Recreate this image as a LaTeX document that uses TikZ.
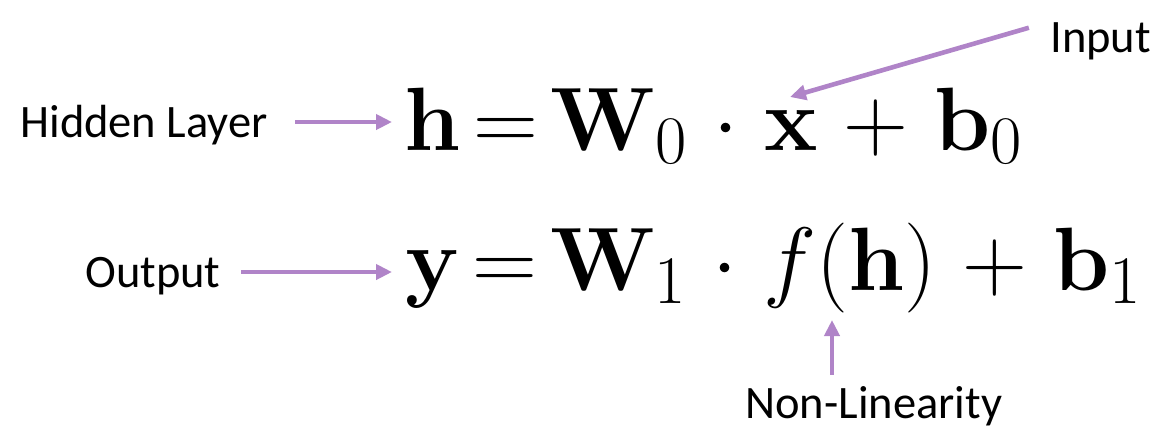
\RequirePackage{fix-cm}
\documentclass[tikz,border=0pt]{standalone}
\usepackage[no-math]{fontspec}
\usetikzlibrary{arrows.meta}
\newfontfamily\labelfont{Carlito}
\DeclareMathSizes{45}{45}{34}{25}
\definecolor{lilac}{RGB}{176,132,200}
\tikzset{
  lbl/.style={font=\labelfont\fontsize{23.25}{28}\selectfont, inner sep=0pt,
    text height=15pt, text depth=0pt, anchor=base west},
  eqn/.style={font={\fontsize{45}{54}\selectfont\thickmuskip=2.5mu\medmuskip=5.2mu},
    inner sep=0pt, anchor=base west},
  pointer/.style={draw=lilac, line width=2.3pt, -{Triangle[length=8pt,width=7.5pt]}}
}
\begin{document}
\begin{tikzpicture}[x=0.5pt,y=-0.5pt]
\useasboundingbox (0,0) rectangle (1158,430);
% the two equations
\node[eqn] (eqh) at (404,150) {$\mathbf{h}=\mathbf{W}_0\cdot\mathbf{x}+\mathbf{b}_0$};
\node[eqn] (eqy) at (405,290) {$\mathbf{y}=\mathbf{W}_1\cdot f(\mathbf{h})+\mathbf{b}_1$};
% labels
\node[lbl] (hidden) at (20,137) {Hidden Layer};
\node[lbl] (output) at (85,287) {Output};
\node[lbl] (input) at (1050,52) {Input};
\node[lbl] (nonlin) at (745,418) {Non-Linearity};
\coordinate (xtip) at (790,97);
\coordinate (ftip) at (832,320);
% pointers
\draw[pointer, shorten <=13.5pt, shorten >=6pt] (hidden.east) -- (hidden.east -| eqh.west);
\draw[pointer, shorten <=10pt, shorten >=6.5pt] (output.east) -- (output.east -| eqy.west);
\draw[pointer, shorten <=11pt] (input.north west) -- (xtip);
\draw[pointer, shorten <=6.5pt] (nonlin.north -| ftip) -- (ftip);
\end{tikzpicture}
\end{document}
